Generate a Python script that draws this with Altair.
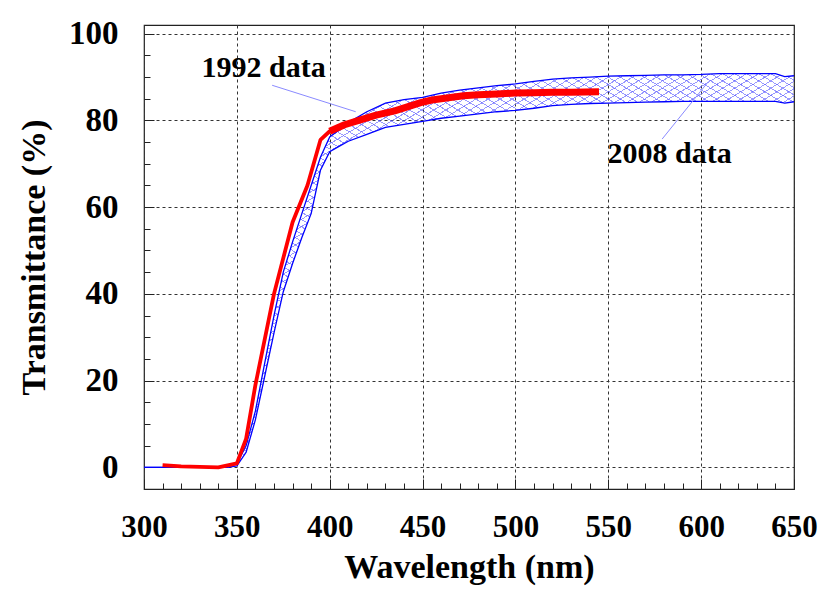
import altair as alt
import pandas as pd

# ---------------- data ----------------
wl_2008 = [300, 310, 320, 330, 340, 345, 350, 355, 360, 365, 370, 375, 380, 385,
           390, 395, 400, 405, 410, 420, 430, 440, 450, 460, 470, 480, 490, 500,
           510, 520, 530, 540, 550, 560, 570, 580, 590, 600, 610, 620, 630, 640,
           645, 650]
upper_2008 = [0, 0, 0, 0, 0, 0.2, 0.8, 5, 13, 24, 35, 45, 52, 58.5,
              65, 71.5, 76.2, 77.8, 79.5, 82, 84, 84.8, 85.3, 86.3, 87, 87.5, 88, 88.4,
              89, 89.5, 89.8, 90, 90.2, 90.3, 90.4, 90.5, 90.5, 90.6, 90.8, 90.8, 90.8, 90.8,
              90.1, 90.3]
lower_2008 = [0, 0, 0, 0, 0, 0, 0.3, 3.5, 11, 21, 31, 40.5, 47, 53,
              58.5, 68.5, 72.8, 74, 75.2, 76.8, 78.4, 79.1, 79.8, 80.5, 81, 81.5, 82, 82.3,
              82.8, 83.4, 83.7, 83.9, 84, 84.1, 84.2, 84.3, 84.4, 84.4, 84.4, 84.4, 84.4, 84.4,
              84, 84.3]

wl_1992 = [310, 320, 330, 340, 350, 355, 360, 370, 380, 388, 395, 400, 408, 417,
           425, 435, 449, 455, 465, 472, 480, 490, 500, 510, 520, 530, 545]
t_1992 = [0.5, 0.2, 0.1, 0.0, 0.9, 6.6, 19, 40, 56.5, 65, 75.5, 77.5, 79, 80.2,
          81.2, 82.2, 84.1, 84.7, 85.3, 85.7, 85.9, 86.1, 86.3, 86.4, 86.5, 86.5, 86.6]

ann_text = ["1992 data", "2008 data"]
ann_x = [331, 549.6]
ann_y = [90, 70.2]
lead_x1 = [369, 579]
lead_y1 = [88.1, 75.7]
lead_x2 = [414, 604]
lead_y2 = [82, 89]

x_major = [300, 350, 400, 450, 500, 550, 600, 650]
y_major = [0, 20, 40, 60, 80, 100]
x_minor = [310, 320, 330, 340, 360, 370, 380, 390, 410, 420, 430, 440, 460, 470,
           480, 490, 510, 520, 530, 540, 560, 570, 580, 590, 610, 620, 630, 640]
y_minor = [5, 10, 15, 25, 30, 35, 45, 50, 55, 65, 70, 75, 85, 90, 95]

df08 = pd.DataFrame({"wl": wl_2008, "upper": upper_2008, "lower": lower_2008})
df92 = pd.DataFrame({"wl": wl_1992, "t": t_1992})
dfann = pd.DataFrame({"label": ann_text, "x": ann_x, "y": ann_y})
dflead = pd.DataFrame({"x1": lead_x1, "y1": lead_y1, "x2": lead_x2, "y2": lead_y2})

FONT = "Liberation Serif"
xs = alt.Scale(domain=[300, 650], nice=False, zero=False)
ys = alt.Scale(domain=[-5, 102], nice=False, zero=False)


def hatch(x1, y1, x2, y2, n=108, frac=0.15):
    c0 = "rgba(90,90,255,0)"
    c1 = "rgba(90,90,255,0.62)"
    stops = []
    for i in range(n):
        a = i / n
        b = (i + frac) / n
        stops += [alt.GradientStop(offset=a, color=c0),
                  alt.GradientStop(offset=a, color=c1),
                  alt.GradientStop(offset=b, color=c1),
                  alt.GradientStop(offset=b, color=c0)]
    return alt.LinearGradient(gradient="linear", stops=stops, x1=x1, y1=y1, x2=x2, y2=y2)


main_x_axis = alt.Axis(
    orient="bottom", values=x_major, grid=True, gridDash=[3, 3], gridColor="#333",
    gridWidth=1, ticks=False, domain=False, labelFont=FONT, labelFontSize=31,
    labelFontWeight="bold", labelColor="black", labelPadding=23, labelFlush=False,
    labelOverlap=False, title="Wavelength (nm)", titleFont=FONT, titleFontSize=34,
    titleFontWeight="bold", titleColor="black", titlePadding=8)
main_y_axis = alt.Axis(
    orient="left", values=y_major, grid=True, gridDash=[3, 3], gridColor="#333",
    gridWidth=1, ticks=False, domain=False, labelFont=FONT, labelFontSize=33,
    labelFontWeight="bold", labelColor="black", labelPadding=26, labelFlush=False,
    labelOverlap=False, title="Transmittance (%)", titleFont=FONT, titleFontSize=34,
    titleFontWeight="bold", titleColor="black", titlePadding=17)


def tick_axis(orient, values, size):
    return alt.Axis(orient=orient, values=values, ticks=True, tickSize=size,
                    tickColor="#222", tickWidth=1, labels=False, domain=False,
                    grid=False, title=None, offset=-size)


band1 = alt.Chart(df08).mark_area(fill=hatch(0, 0, 1, 1), strokeWidth=0).encode(
    x=alt.X("wl:Q", scale=xs, axis=main_x_axis),
    y=alt.Y("upper:Q", scale=ys, axis=main_y_axis),
    y2="lower:Q")
band2 = alt.Chart(df08).mark_area(fill=hatch(0, 1, 1, 0), strokeWidth=0).encode(
    x=alt.X("wl:Q", scale=xs, axis=None),
    y=alt.Y("upper:Q", scale=ys, axis=None),
    y2="lower:Q")
up_line = alt.Chart(df08).mark_line(color="#0000ff", strokeWidth=1.3).encode(
    x=alt.X("wl:Q", scale=xs, axis=tick_axis("bottom", x_minor, 6)),
    y=alt.Y("upper:Q", scale=ys, axis=tick_axis("left", y_minor, 6)))
lo_line = alt.Chart(df08).mark_line(color="#0000ff", strokeWidth=1.3).encode(
    x=alt.X("wl:Q", scale=xs, axis=tick_axis("bottom", x_major, 10)),
    y=alt.Y("lower:Q", scale=ys, axis=tick_axis("left", y_major, 10)))
red_thin = alt.Chart(df92).mark_line(color="#ff0000", strokeWidth=3.8, strokeJoin="round").encode(
    x=alt.X("wl:Q", scale=xs, axis=None),
    y=alt.Y("t:Q", scale=ys, axis=None))
red_thick = alt.Chart(df92).transform_filter("datum.wl >= 398").mark_line(
    color="#ff0000", strokeWidth=7, strokeJoin="round").encode(
    x=alt.X("wl:Q", scale=xs, axis=None),
    y=alt.Y("t:Q", scale=ys, axis=None))
leaders = alt.Chart(dflead).mark_rule(color="#8a8aff", strokeWidth=1).encode(
    x=alt.X("x1:Q", scale=xs, axis=None), y=alt.Y("y1:Q", scale=ys, axis=None),
    x2="x2:Q", y2="y2:Q")
labels = alt.Chart(dfann).mark_text(
    font=FONT, fontSize=30, fontWeight="bold", color="black", align="left",
    baseline="alphabetic").encode(
    x=alt.X("x:Q", scale=xs, axis=None), y=alt.Y("y:Q", scale=ys, axis=None),
    text="label:N")

chart = alt.layer(band1, band2, up_line, lo_line, red_thin, red_thick, leaders, labels).resolve_axis(
    x="independent", y="independent"
).properties(
    width=650, height=464, background="white",
    autosize=alt.AutoSizeParams(type="none"),
    padding={"left": 136, "top": 17, "right": 24, "bottom": 101},
).configure_view(stroke="#222", strokeWidth=1.2)

chart.save("out.html", embed_options={"renderer": "svg", "actions": False})
